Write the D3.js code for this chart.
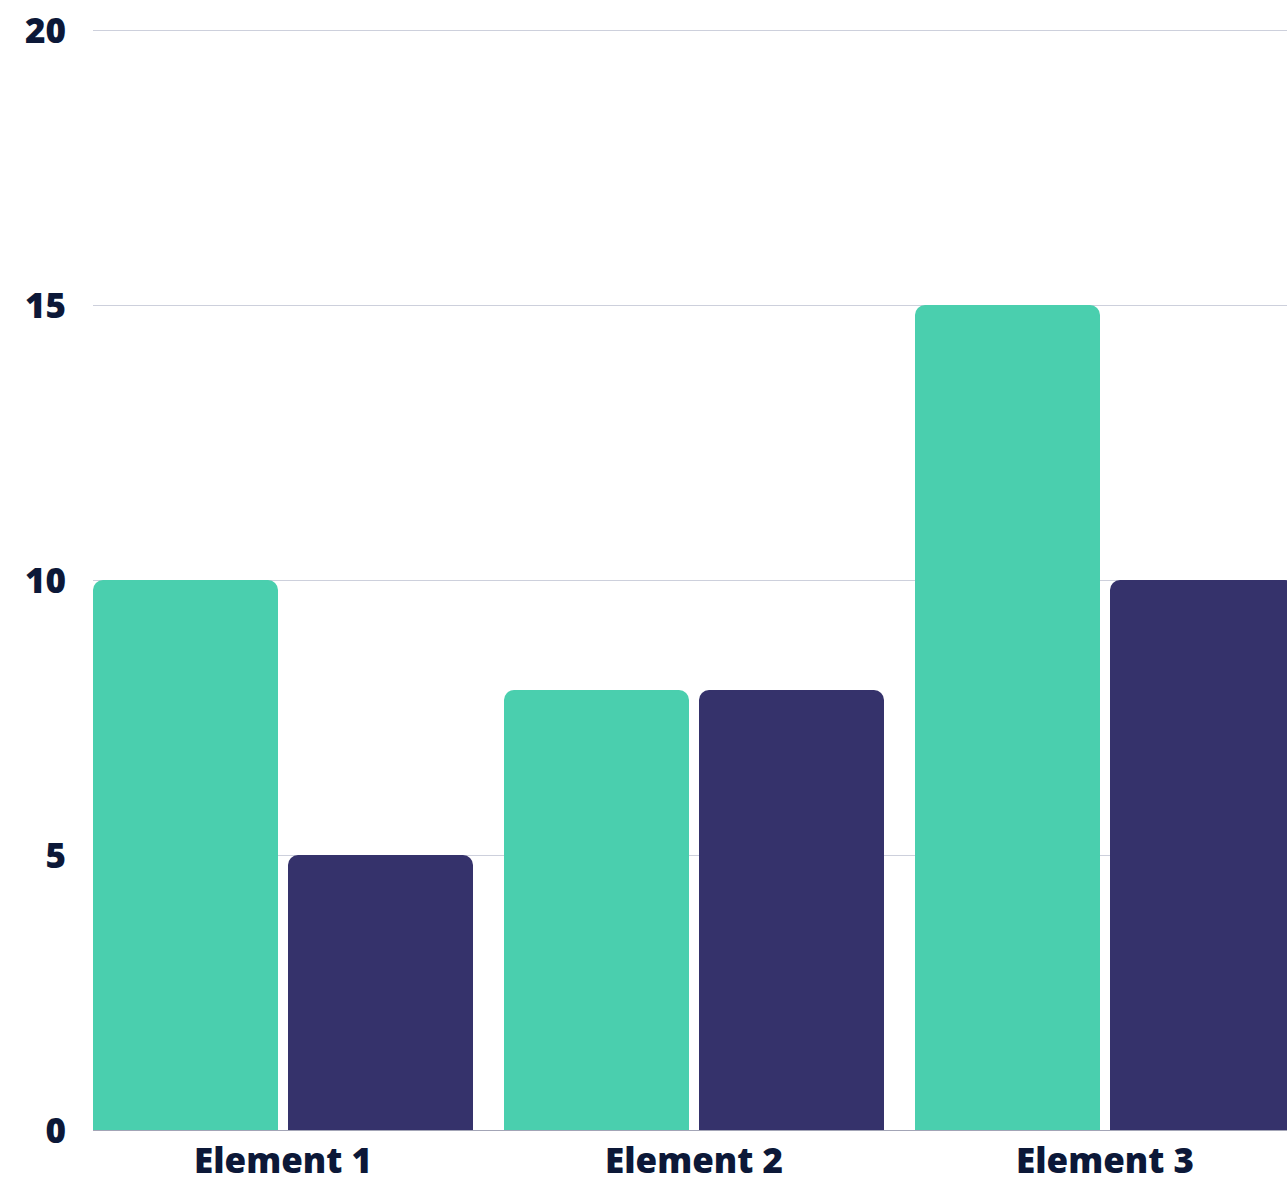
<!DOCTYPE html>
<html>
<head>
<meta charset="utf-8">
<script src="https://cdn.jsdelivr.net/npm/d3@7"></script>
<style>
  html, body { margin: 0; padding: 0; background: #fff; overflow: hidden; }
  text { font-family: "Noto Sans", "Open Sans", sans-serif; font-weight: 900; fill: #0c1838; }
</style>
</head>
<body>
<svg id="chart"></svg>
<script>
const categories = ["Element 1", "Element 2", "Element 3"];
const seriesNames = ["Series 1", "Series 2"];
const series1 = [10, 8, 15];
const series2 = [5, 8, 10];
const yTicks = [0, 5, 10, 15, 20];

const colors = {"Series 1": "#4acfae", "Series 2": "#35326b"};

const W = 1287, H = 1179;
const margin = {top: 30, left: 93, bottom: 49};
const plotRight = 1295;  // last bar runs past the window edge, as in the reference
const y0 = H - margin.bottom;

const rows = categories.map((c, i) => ({
    name: c,
    values: [{key: "Series 1", v: series1[i]}, {key: "Series 2", v: series2[i]}]
}));

const svg = d3.select("#chart")
    .attr("width", W)
    .attr("height", H);

const x0 = d3.scaleBand()
    .domain(categories)
    .range([margin.left, plotRight])
    .paddingInner(31 / 411)
    .paddingOuter(0);

const x1 = d3.scaleBand()
    .domain(seriesNames)
    .range([0, x0.bandwidth()])
    .paddingInner(10 / 195);

const y = d3.scaleLinear()
    .domain([0, 20])
    .range([y0, margin.top]);

// grid lines
svg.append("g").selectAll("line")
    .data(yTicks.filter(d => d > 0))
    .enter().append("line")
        .attr("x1", margin.left)
        .attr("x2", W)
        .attr("y1", d => y(d) + 0.5)
        .attr("y2", d => y(d) + 0.5)
        .attr("stroke", "#cdd0dc")
        .attr("stroke-width", 1)

// y labels
svg.append("g").selectAll("text")
    .data(yTicks)
    .enter().append("text")
        .attr("x", 66)
        .attr("y", d => y(d))
        .attr("dy", "0.36em")
        .attr("text-anchor", "end")
        .style("font-size", "35px")
        .text(d => d)

// rounded-top bar path
function barPath(x, yTop, w, h, r) {
    r = Math.min(r, h, w / 2);
    return `M${x},${yTop + h}V${yTop + r}A${r},${r} 0 0 1 ${x + r},${yTop}` +
        `H${x + w - r}A${r},${r} 0 0 1 ${x + w},${yTop + r}V${yTop + h}Z`;
}

const groups = svg.append("g").selectAll("g")
    .data(rows)
    .enter().append("g")
        .attr("transform", d => `translate(${x0(d.name)},0)`)

groups.selectAll("path")
    .data(d => d.values)
    .enter().append("path")
        .attr("d", d => barPath(x1(d.key), y(d.v), x1.bandwidth(), y0 - y(d.v), 10))
        .attr("fill", d => colors[d.key])

// baseline
svg.append("line")
    .attr("x1", margin.left)
    .attr("x2", W)
    .attr("y1", y0 + 0.5)
    .attr("y2", y0 + 0.5)
    .attr("stroke", "#a3a5b6")
    .attr("stroke-width", 1)

// category labels
svg.append("g").selectAll("text")
    .data(categories)
    .enter().append("text")
        .attr("x", d => x0(d) + x0.bandwidth() / 2)
        .attr("y", 1173)
        .attr("text-anchor", "middle")
        .style("font-size", "35px")
        .text(d => d)
</script>
</body>
</html>
